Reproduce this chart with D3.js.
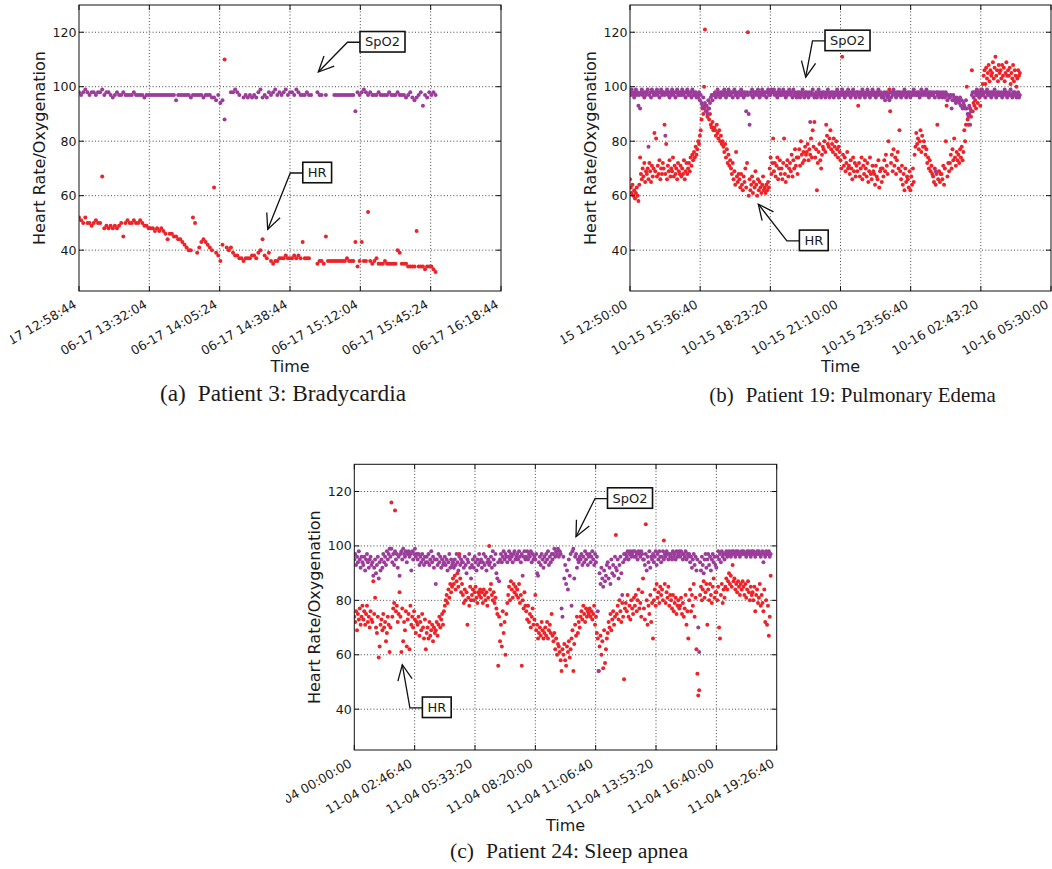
<!DOCTYPE html>
<html><head><meta charset="utf-8">
<script src="https://cdn.jsdelivr.net/npm/d3@7"></script>
<style>
html,body{margin:0;padding:0;background:#fff;}
svg{display:block;}
.tl{font-family:"DejaVu Sans",sans-serif;font-size:12.6px;fill:#1a1a1a;}
.al{font-family:"DejaVu Sans",sans-serif;font-size:16px;fill:#1a1a1a;}
.an{font-family:"DejaVu Sans",sans-serif;font-size:13px;fill:#1a1a1a;}
.cap{font-family:"Liberation Serif","Times New Roman",serif;fill:#1a1a1a;}
</style></head><body>
<svg id="fig" width="1052" height="869"></svg>
<script>
// ---------------- DATA ----------------
const yTicks = [40, 60, 80, 100, 120];

// Panel (a) Patient 3: Bradycardia
const ticksA = ["06-17 12:58:44","06-17 13:32:04","06-17 14:05:24","06-17 14:38:44","06-17 15:12:04","06-17 15:45:24","06-17 16:18:44"];
const stepA = 60; // seconds between samples
const hrA = [
52,51,50,52,50,50,49,50,51,50,
50,67,48,49,48,49,48,49,48,49,
50,45,50,51,50,50,51,50,50,51,
50,49,49,48,48,48,47,48,47,48,
47,46,44,46,46,45,45,44,44,43,
42,41,40,40,52,50,39,41,43,44,
43,42,41,40,63,39,38,36,42,110,
41,40,41,39,38,38,37,37,36,37,
37,37,38,38,37,39,40,44,38,37,
39,36,35,36,36,37,37,37,38,37,
37,37,38,37,38,37,43,37,37,37,
null,null,null,35,36,36,35,45,36,36,
36,36,36,36,36,36,36,37,36,36,
36,43,34,36,43,36,36,54,36,35,
36,37,35,35,35,36,35,35,35,35,
35,40,39,35,35,35,34,34,34,34,
47,34,34,34,33,34,34,34,33,32];
const spo2A = [
98,97,98,99,98,97,98,98,97,98,
98,99,97,98,98,97,96,97,98,97,
97,98,97,97,97,97,98,97,97,97,
97,96,97,97,97,97,97,97,97,97,
97,97,97,97,97,97,95,97,97,97,
97,97,97,96,97,97,97,97,97,96,
97,97,97,96,96,95,97,94,95,88,
null,null,98,98,99,98,97,null,96,97,
96,97,96,97,96,98,99,96,97,96,
98,97,98,99,97,98,97,98,99,97,
98,98,97,99,98,97,97,97,98,97,
97,null,null,98,97,97,null,97,null,null,
null,97,97,97,97,97,97,97,97,97,
97,91,98,97,98,99,98,97,98,97,
97,97,98,97,97,97,97,98,97,97,
97,98,97,97,97,96,97,98,96,95,
96,97,98,93,97,96,98,97,98,97];
// annotation: label, tip (s from start), tip value, text (s from start), text value
const annA = [["SpO2",6805,105.4,8630,116.5],["HR",5366,47.6,6773,68.5]];

// Panel (b) Patient 19: Pulmonary Edema
const ticksB = ["10-15 12:50:00","10-15 15:36:40","10-15 18:23:20","10-15 21:10:00","10-15 23:56:40","10-16 02:43:20","10-16 05:30:00"];
const stepB = 120;
const hrB = [
66,63,61,64,60,62,59,61,63,60,
58,64,74,68,66,70,67,72,65,69,
68,70,66,72,69,65,71,67,70,83,
69,81,67,71,68,73,66,70,68,72,
70,86,68,79,66,71,69,73,67,70,
69,74,67,71,68,70,66,72,69,68,
71,67,70,68,73,66,69,72,68,70,
72,69,74,71,75,73,76,74,78,75,
77,80,79,82,84,88,92,90,100,121,
93,91,89,92,88,90,86,85,87,84,
85,84,82,86,83,81,84,80,82,79,
80,78,76,79,74,77,72,75,71,73,
70,68,72,66,69,64,76,67,65,68,
66,63,68,64,62,67,65,70,63,72,
120,60,66,62,64,67,61,65,63,69,
64,60,66,62,65,63,61,64,67,62,
63,61,64,62,65,63,70,74,68,72,
81,69,72,67,71,74,66,70,73,68,
70,66,72,81,68,65,71,73,67,70,
72,69,75,67,73,70,77,71,74,68,
74,77,71,80,75,72,76,73,78,75,
76,79,73,77,75,81,74,84,78,87,
74,77,62,72,76,79,73,70,75,78,
77,80,76,86,82,79,78,81,84,77,
79,76,81,78,75,80,77,74,78,76,
73,70,111,75,71,74,69,72,76,70,
71,68,73,70,66,74,69,72,67,71,
69,93,72,67,70,74,66,71,68,73,
70,67,72,65,69,74,68,66,71,69,
68,64,71,67,66,73,63,69,70,65,
70,67,73,69,75,71,68,80,99,91,
72,75,69,77,71,74,68,73,76,70,
84,69,66,71,64,68,62,70,65,67,
66,63,69,62,67,64,70,65,75,78,
83,79,81,77,80,84,76,82,78,80,
78,75,77,72,74,70,73,69,71,68,
67,65,70,64,68,86,66,69,65,68,
68,66,71,64,70,80,93,67,72,69,
72,75,70,77,73,81,74,71,76,73,
75,72,77,74,78,73,76,84,80,86,
100,88,86,90,92,89,106,91,94,93,
95,92,97,94,98,96,93,99,97,101,
104,106,101,107,103,105,108,102,106,104,
105,109,103,107,111,104,106,102,108,105,
106,103,108,104,107,102,105,109,104,106,
104,107,101,105,103,108,102,106,104,100,
103,106,104,105];
const spo2B = [
98,97,99,98,97,96,98,99,97,98,
93,97,92,98,99,97,98,96,98,97,
98,99,78,97,98,96,99,98,97,98,
97,98,99,97,98,96,98,99,97,98,
98,97,82,98,99,97,98,96,98,97,
99,98,97,98,96,98,99,97,98,97,
98,97,99,98,97,98,96,98,99,97,
98,97,98,96,99,97,98,97,98,96,
97,96,98,95,97,94,93,96,92,94,
91,93,90,95,92,94,96,97,95,97,
97,98,96,97,99,98,97,96,98,97,
98,97,99,98,96,97,98,99,97,98,
97,98,96,98,99,97,98,97,96,98,
98,97,99,97,98,96,98,97,91,98,
97,90,86,98,97,99,96,98,97,98,
98,97,99,98,96,97,98,99,97,98,
97,98,96,98,99,97,98,97,99,98,
98,99,97,98,97,96,98,99,97,98,
97,98,99,97,98,96,98,97,98,99,
98,97,98,96,99,97,98,97,96,98,
97,98,96,97,98,99,97,96,98,97,
98,97,96,98,87,97,98,99,97,96,
97,98,96,97,99,98,97,96,98,97,
98,97,96,98,97,99,98,96,97,98,
97,98,96,97,98,97,99,98,96,97,
98,97,99,98,97,96,98,97,98,99,
97,98,96,98,97,99,98,97,96,98,
98,97,98,96,97,98,99,97,98,96,
97,98,99,97,98,96,97,98,99,97,
98,97,96,98,97,99,98,97,98,96,
97,96,98,95,97,98,96,97,95,98,
96,98,97,99,98,97,96,98,97,98,
97,98,96,97,98,97,99,98,96,97,
98,97,98,96,97,98,97,99,98,97,
97,98,97,98,96,97,99,98,97,98,
98,97,99,97,98,96,98,97,98,97,
97,98,96,69,98,97,98,96,97,98,
97,96,98,97,96,98,97,95,97,96,
96,97,92,95,97,96,95,94,96,95,
95,94,96,93,95,92,94,93,92,95,
92,90,89,93,86,91,97,98,96,98,
98,97,99,98,97,96,98,97,99,98,
97,98,96,98,99,97,98,97,98,96,
98,97,98,99,97,96,98,97,98,97,
97,98,96,97,98,99,97,98,96,97,
98,97,99,97,96,98,97,98,97,96,
97,98,96,97];
const annB = [["SpO2",25040,103.5,31000,117.0],["HR",18285,56.9,26195,43.6]];

// Panel (c) Patient 24: Sleep apnea
const ticksC = ["11-04 00:00:00","11-04 02:46:40","11-04 05:33:20","11-04 08:20:00","11-04 11:06:40","11-04 13:53:20","11-04 16:40:00","11-04 19:26:40"];
const stepC = 150;
const hrC = [
74,72,76,69,75,73,77,71,74,78,
73,76,71,75,78,72,74,70,76,73,
72,87,75,81,70,68,74,59,63,71,
73,69,75,70,72,65,68,74,71,61,
70,116,74,77,79,113,76,78,72,75,
83,74,61,77,65,72,69,76,63,73,
75,62,78,71,74,70,76,73,68,72,
71,74,67,72,69,75,70,66,73,62,
68,70,66,72,67,69,71,65,70,68,
69,72,67,71,74,70,73,75,71,76,
78,80,82,79,84,81,86,83,85,88,
86,89,84,87,90,85,97,88,83,86,
82,79,84,80,83,71,81,78,85,80,
82,84,80,83,85,81,79,83,82,84,
81,83,79,84,82,80,83,78,81,100,
84,86,82,80,83,79,81,77,75,56,
74,65,71,63,76,68,72,60,75,79,
82,85,80,87,84,81,86,83,85,82,
84,81,86,79,82,56,80,77,83,78,
76,73,78,72,75,70,74,77,71,73,
82,69,71,66,68,70,67,72,69,66,
68,70,67,72,66,69,71,68,75,67,
65,68,62,66,60,64,63,61,58,54,
62,60,64,58,56,63,61,65,59,62,
66,69,54,64,71,67,74,68,72,70,
74,76,73,78,75,72,77,74,76,75,
77,74,76,73,75,78,71,74,68,66,
54,63,67,60,65,55,69,57,62,66,
68,72,70,75,69,73,76,71,74,104,
75,78,73,80,76,72,79,74,51,77,
79,76,82,74,78,73,80,77,75,81,
78,82,76,80,84,77,79,74,83,88,
77,73,108,80,71,78,75,82,72,79,
66,80,84,78,86,81,83,79,85,82,
84,80,102,86,79,83,81,85,78,82,
80,77,82,76,79,81,75,78,80,77,
78,81,75,79,74,77,82,71,76,66,
80,84,76,82,78,86,74,81,62,53,
45,47,82,85,80,84,87,81,83,86,
71,84,80,86,82,79,85,88,81,83,
83,80,85,70,66,82,86,79,84,81,
85,88,84,87,90,86,89,85,93,87,
88,84,86,83,87,85,82,86,84,87,
85,82,86,81,84,87,83,80,85,82,
83,80,85,76,82,84,79,81,86,78,
82,79,76,84,72,80,71,78,67,74,
89];
const spo2C = [
95,97,93,96,94,98,95,92,96,94,
93,96,91,95,97,94,92,95,96,93,
94,89,92,95,90,93,96,88,94,91,
95,92,97,94,96,93,98,95,97,99,
96,99,94,97,93,98,95,97,92,96,
89,97,98,95,99,97,96,98,94,97,
98,96,97,91,98,95,97,99,96,97,
95,97,93,96,94,97,95,93,96,94,
96,94,97,93,95,98,94,96,92,95,
86,95,93,97,94,96,92,95,93,94,
96,93,95,91,94,97,92,95,93,94,
92,95,93,97,94,91,96,93,95,94,
94,92,96,93,90,95,94,97,92,88,
93,95,92,96,94,91,95,93,97,94,
95,92,94,97,93,96,91,94,95,93,
94,96,92,98,95,93,97,90,88,94,
87,95,97,94,96,98,95,97,96,94,
96,98,95,97,96,94,97,98,95,96,
97,95,98,96,94,97,89,96,98,95,
96,98,95,97,96,98,94,97,95,96,
95,97,90,89,94,96,93,97,95,92,
96,94,97,95,98,93,96,94,97,95,
97,99,96,98,97,99,96,98,97,77,
74,96,88,93,86,91,84,95,89,97,
78,98,99,88,96,97,92,95,94,96,
95,97,93,96,94,98,95,97,93,96,
97,94,96,98,95,93,97,94,96,76,
54,90,86,92,88,85,91,87,89,93,
94,88,92,86,95,90,93,89,96,92,
91,95,88,93,96,90,82,94,97,95,
97,96,98,95,97,98,96,97,98,96,
98,96,97,95,98,97,96,98,97,95,
95,93,97,91,96,94,98,92,96,95,
97,94,96,98,93,97,95,98,96,94,
96,98,95,97,96,98,97,95,97,96,
97,95,98,96,97,95,98,96,97,98,
96,98,97,95,97,96,98,95,97,96,
97,94,96,92,95,97,93,96,91,95,
70,61,94,91,96,93,90,95,97,92,
95,97,93,96,91,95,97,94,96,93,
92,96,98,95,97,94,98,96,97,95,
97,98,96,97,98,97,96,98,97,98,
97,96,98,97,98,97,96,97,98,97,
98,97,97,96,98,97,98,97,96,98,
97,98,97,96,97,98,97,98,97,96,
97,98,94,97,96,98,97,97,98,96,
97];
const annC = [["SpO2",36740,103.4,45690,117.6],["HR",7955,56.35,13670,40.7]];

const captions = ["(a)","Patient 3: Bradycardia","(b)","Patient 19: Pulmonary Edema","(c)","Patient 24: Sleep apnea"];

// ---------------- STYLE / LAYOUT ----------------
const RED = "#ec2328", PURPLE = "#9c3c9a";
const parse = d3.utcParse("%Y-%m-%d %H:%M:%S");
const toDate = s => parse("2012-" + s);

const panels = [
  {ticks: ticksA, step: stepA, hr: hrA, spo2: spo2A, ann: annA, cap: [captions[0], captions[1]],
   left: 79, top: 5, w: 422, h: 286, clipL: 10, clipR: 540, capX: 283, capY: 401, capSize: 23.3},
  {ticks: ticksB, step: stepB, hr: hrB, spo2: spo2B, ann: annB, cap: [captions[2], captions[3]],
   left: 630, top: 5, w: 421, h: 286, clipL: 560.5, clipR: 1052, capX: 852.5, capY: 401.5, capSize: 20.9},
  {ticks: ticksC, step: stepC, hr: hrC, spo2: spo2C, ann: annC, cap: [captions[4], captions[5]],
   left: 354.3, top: 464.3, w: 422.4, h: 285.7, clipL: 286, clipR: 800, capX: 569, capY: 858, capSize: 21.6}
];

const svg = d3.select("#fig");
const defs = svg.append("defs");

panels.forEach((p, pi) => {
  const tickDates = p.ticks.map(toDate);
  const t0 = tickDates[0];
  const x = d3.scaleUtc().domain([t0, tickDates[tickDates.length - 1]]).range([p.left, p.left + p.w]);
  const y = d3.scaleLinear().domain([25, 130]).range([p.top + p.h, p.top]);
  const fmt = d3.utcFormat("%m-%d %H:%M:%S");
  const atSec = s => new Date(t0.getTime() + s * 1000);

  defs.append("clipPath").attr("id", "pc" + pi).append("rect")
    .attr("x", p.clipL).attr("y", 0).attr("width", p.clipR - p.clipL).attr("height", 869);
  defs.append("clipPath").attr("id", "ac" + pi).append("rect")
    .attr("x", p.left).attr("y", p.top).attr("width", p.w).attr("height", p.h);

  const g = svg.append("g").attr("clip-path", `url(#pc${pi})`);

  // grid
  const grid = g.append("g");
  grid.selectAll("line.gx").data(tickDates.slice(1, -1)).join("line")
    .attr("x1", d => x(d)).attr("x2", d => x(d)).attr("y1", p.top).attr("y2", p.top + p.h)
    .attr("stroke", "#333").attr("stroke-width", 0.9).attr("stroke-dasharray", "1,2.2");
  grid.selectAll("line.gy").data(yTicks).join("line")
    .attr("x1", p.left).attr("x2", p.left + p.w).attr("y1", d => y(d)).attr("y2", d => y(d))
    .attr("stroke", "#333").attr("stroke-width", 0.9).attr("stroke-dasharray", "1,2.2");

  // points
  const pts = g.append("g").attr("clip-path", `url(#ac${pi})`);
  const series = [[p.hr, RED], [p.spo2, PURPLE]];
  series.forEach(([vals, col]) => {
    const data = vals.map((v, i) => ({t: atSec(i * p.step), v})).filter(d => d.v !== null);
    pts.append("g").selectAll("circle").data(data).join("circle")
      .attr("cx", d => x(d.t)).attr("cy", d => y(d.v)).attr("r", 2).attr("fill", col);
  });

  // frame
  g.append("rect").attr("x", p.left).attr("y", p.top).attr("width", p.w).attr("height", p.h)
    .attr("fill", "none").attr("stroke", "#111").attr("stroke-width", 1);

  // inward ticks
  const tk = g.append("g").attr("stroke", "#111").attr("stroke-width", 1);
  tickDates.forEach(d => {
    tk.append("line").attr("x1", x(d)).attr("x2", x(d)).attr("y1", p.top + p.h).attr("y2", p.top + p.h - 5);
    tk.append("line").attr("x1", x(d)).attr("x2", x(d)).attr("y1", p.top).attr("y2", p.top + 5);
  });
  yTicks.forEach(v => {
    tk.append("line").attr("x1", p.left).attr("x2", p.left + 5).attr("y1", y(v)).attr("y2", y(v));
    tk.append("line").attr("x1", p.left + p.w).attr("x2", p.left + p.w - 5).attr("y1", y(v)).attr("y2", y(v));
  });

  // y tick labels
  g.selectAll("text.yl").data(yTicks).join("text").attr("class", "tl")
    .attr("x", p.left - 2.5).attr("y", d => y(d)).attr("dy", "0.36em")
    .attr("text-anchor", "end").text(d => d);

  // x tick labels (rotated)
  g.selectAll("text.xl").data(tickDates).join("text").attr("class", "tl")
    .attr("text-anchor", "end")
    .attr("transform", d => `translate(${x(d) - 1.5},${p.top + p.h + 16}) rotate(-30)`)
    .text(d => fmt(d));

  // axis labels
  g.append("text").attr("class", "al").attr("text-anchor", "middle")
    .attr("x", p.left + p.w / 2).attr("y", p.top + p.h + 80.7).text("Time");
  g.append("text").attr("class", "al").attr("text-anchor", "middle")
    .attr("dominant-baseline", "central")
    .attr("transform", `translate(${p.left - 40},${p.top + p.h / 2}) rotate(-90)`)
    .text("Heart Rate/Oxygenation");

  // annotations
  p.ann.forEach(([lab, tt, tv, xt, xv]) => {
    const tipX = x(atSec(tt)), tipY = y(tv);
    const cx = x(atSec(xt)), cy = y(xv);
    const ag = g.append("g");
    const txt = ag.append("text").attr("class", "an").attr("text-anchor", "middle")
      .attr("x", cx).attr("y", cy).attr("dy", "0.36em").text(lab);
    const tw = txt.node().getComputedTextLength();
    const bw = tw + 10, bh = 20.5;
    const bx = cx - bw / 2, by = cy - bh / 2;
    ag.insert("rect", "text").attr("x", bx).attr("y", by).attr("width", bw).attr("height", bh)
      .attr("fill", "#fff").attr("stroke", "#111").attr("stroke-width", 1.6);
    const ex = bx - 12.5, ey = cy + 0.5;
    ag.append("path").attr("d", `M${bx},${ey}L${ex},${ey}L${tipX},${tipY}`)
      .attr("fill", "none").attr("stroke", "#111").attr("stroke-width", 1.3);
    const ang = Math.atan2(ey - tipY, ex - tipX);
    const L = 17, a = 25 * Math.PI / 180;
    const h1 = [tipX + L * Math.cos(ang - a), tipY + L * Math.sin(ang - a)];
    const h2 = [tipX + L * Math.cos(ang + a), tipY + L * Math.sin(ang + a)];
    ag.append("path").attr("d", `M${h1[0]},${h1[1]}L${tipX},${tipY}L${h2[0]},${h2[1]}`)
      .attr("fill", "none").attr("stroke", "#111").attr("stroke-width", 1.3);
  });

  // caption
  const ct = svg.append("text").attr("class", "cap").attr("x", p.capX).attr("y", p.capY)
    .attr("text-anchor", "middle").style("font-size", p.capSize + "px");
  ct.append("tspan").text(p.cap[0]);
  ct.append("tspan").attr("dx", 12).text(p.cap[1]);
});
</script>
</body></html>
